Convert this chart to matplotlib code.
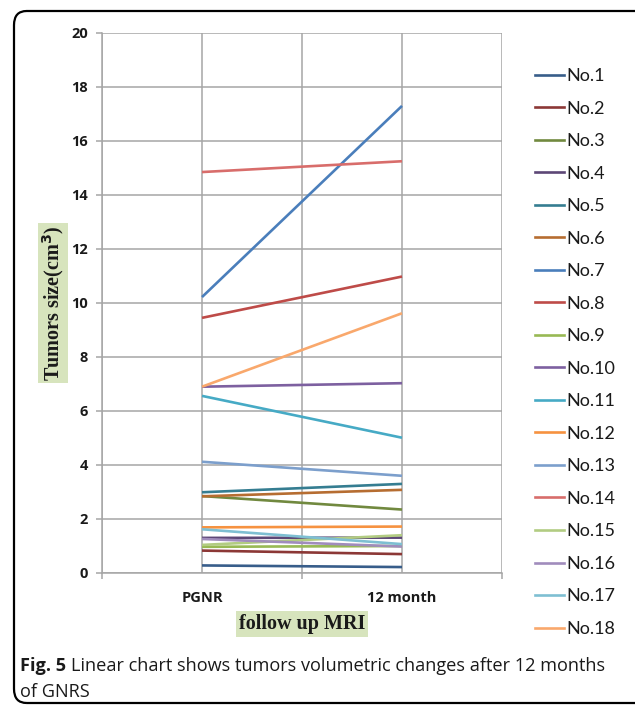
import matplotlib
matplotlib.use("Agg")
import matplotlib.pyplot as plt
from matplotlib.patches import FancyBboxPatch
from matplotlib.lines import Line2D

# follow-up time points
timepoints = ["PGNR", "12 month"]

patients = ["No.%d" % i for i in range(1, 19)]

# tumour volume (cm3) at PGNR and at 12 months
vol_pgnr = [0.28, 0.83, 2.85, 1.30, 2.99, 2.84, 10.22, 9.45, 0.97,
            6.90, 6.56, 1.69, 4.12, 14.85, 1.04, 1.26, 1.62, 6.90]
vol_12m = [0.22, 0.70, 2.35, 1.31, 3.30, 3.08, 17.30, 10.98, 1.00,
           7.03, 5.01, 1.72, 3.60, 15.25, 1.40, 0.98, 1.07, 9.62]

colors = ["#385d8a", "#8c3836", "#71893f", "#5c4776", "#357d91", "#b66d31",
          "#4a7ebb", "#be4b48", "#98b954", "#7d60a0", "#46aac5", "#f69240",
          "#7c9fcc", "#d86d6b", "#b2cc82", "#a08cbc", "#7ebfd2", "#f9a86c"]

W, H = 635, 708
fig = plt.figure(figsize=(W / 100, H / 100), dpi=100)

# rounded frame around chart and caption
frame = FancyBboxPatch((14 / W, 1 - 703 / H), 640 / W, 692 / H,
                       boxstyle="round,pad=0,rounding_size=0.02",
                       transform=fig.transFigure, fill=False,
                       edgecolor="black", linewidth=1.6, clip_on=False)
fig.patches.append(frame)

ax = fig.add_axes([102 / W, 1 - 573 / H, 400 / W, 540 / H])
xs = list(range(len(timepoints)))
for name, a, b, c in zip(patients, vol_pgnr, vol_12m, colors):
    ax.plot(xs, [a, b], color=c, linewidth=1.9, label=name,
            solid_capstyle="butt", zorder=3)

ax.set_xlim(-0.5, 1.5)
ax.set_ylim(0, 20)
ax.set_yticks(range(0, 21, 2))
ax.set_xticks(xs)
ax.set_xticklabels(timepoints)
ax.set_xticks([-0.5, 0.5, 1.5], minor=True)

grid_c = "#a6a6a6"
ax.grid(True, which="both", color=grid_c, linewidth=1.1, zorder=0)
for s in ["top", "right"]:
    ax.spines[s].set_visible(False)
for s in ["left", "bottom"]:
    ax.spines[s].set_color(grid_c)
    ax.spines[s].set_linewidth(1.1)

ax.tick_params(axis="y", length=4, width=1.1, color=grid_c, pad=6)
ax.tick_params(axis="x", which="major", length=0, pad=13)
ax.tick_params(axis="x", which="minor", length=4, width=1.1, color=grid_c)
for lab in ax.get_yticklabels() + ax.get_xticklabels():
    lab.set_fontfamily("Open Sans")
    lab.set_fontweight("bold")
    lab.set_fontsize(10.5)
    lab.set_color("#1a1a1a")

green = "#d7e4bd"
fig.text(53 / W, 1 - 303 / H, "Tumors size(cm$^{\\mathbf{3}}$)", rotation=90,
         ha="center", va="center", family="Liberation Serif",
         fontweight="bold", fontsize=14.5, color="#1a1a1a",
         bbox=dict(boxstyle="square,pad=0.12", facecolor=green, edgecolor="none"))
fig.text(302 / W, 1 - 624 / H, "follow up MRI", ha="center", va="center",
         family="Liberation Serif", fontweight="bold", fontsize=14.5,
         color="#1a1a1a",
         bbox=dict(boxstyle="square,pad=0.15", facecolor=green, edgecolor="none"))

handles = [Line2D([0], [0], color=c, linewidth=1.9) for c in colors]
fig.legend(handles, patients, loc="upper left",
           bbox_to_anchor=(526 / W, 1 - 59 / H), frameon=False,
           prop={"family": "Lato", "size": 13}, handlelength=1.6,
           handletextpad=0.15, labelspacing=0.915, borderpad=0,
           labelcolor="#1a1a1a")

# caption with bold figure number
cap_y1 = 1 - 671 / H
cap_y2 = 1 - 697 / H
t1 = fig.text(20 / W, cap_y1, "Fig. 5", ha="left", va="baseline",
              family="Open Sans", fontweight="bold", fontsize=13.1,
              color="#1a1a1a")
fig.canvas.draw()
bb = t1.get_window_extent()
fig.text(bb.x1 / W + 5 / W, cap_y1,
         "Linear chart shows tumors volumetric changes after 12 months",
         ha="left", va="baseline", family="Open Sans", fontsize=13.1,
         color="#1a1a1a")
fig.text(20 / W, cap_y2, "of GNRS", ha="left", va="baseline",
         family="Open Sans", fontsize=13.1, color="#1a1a1a")

fig.savefig("out.png", dpi=100)
